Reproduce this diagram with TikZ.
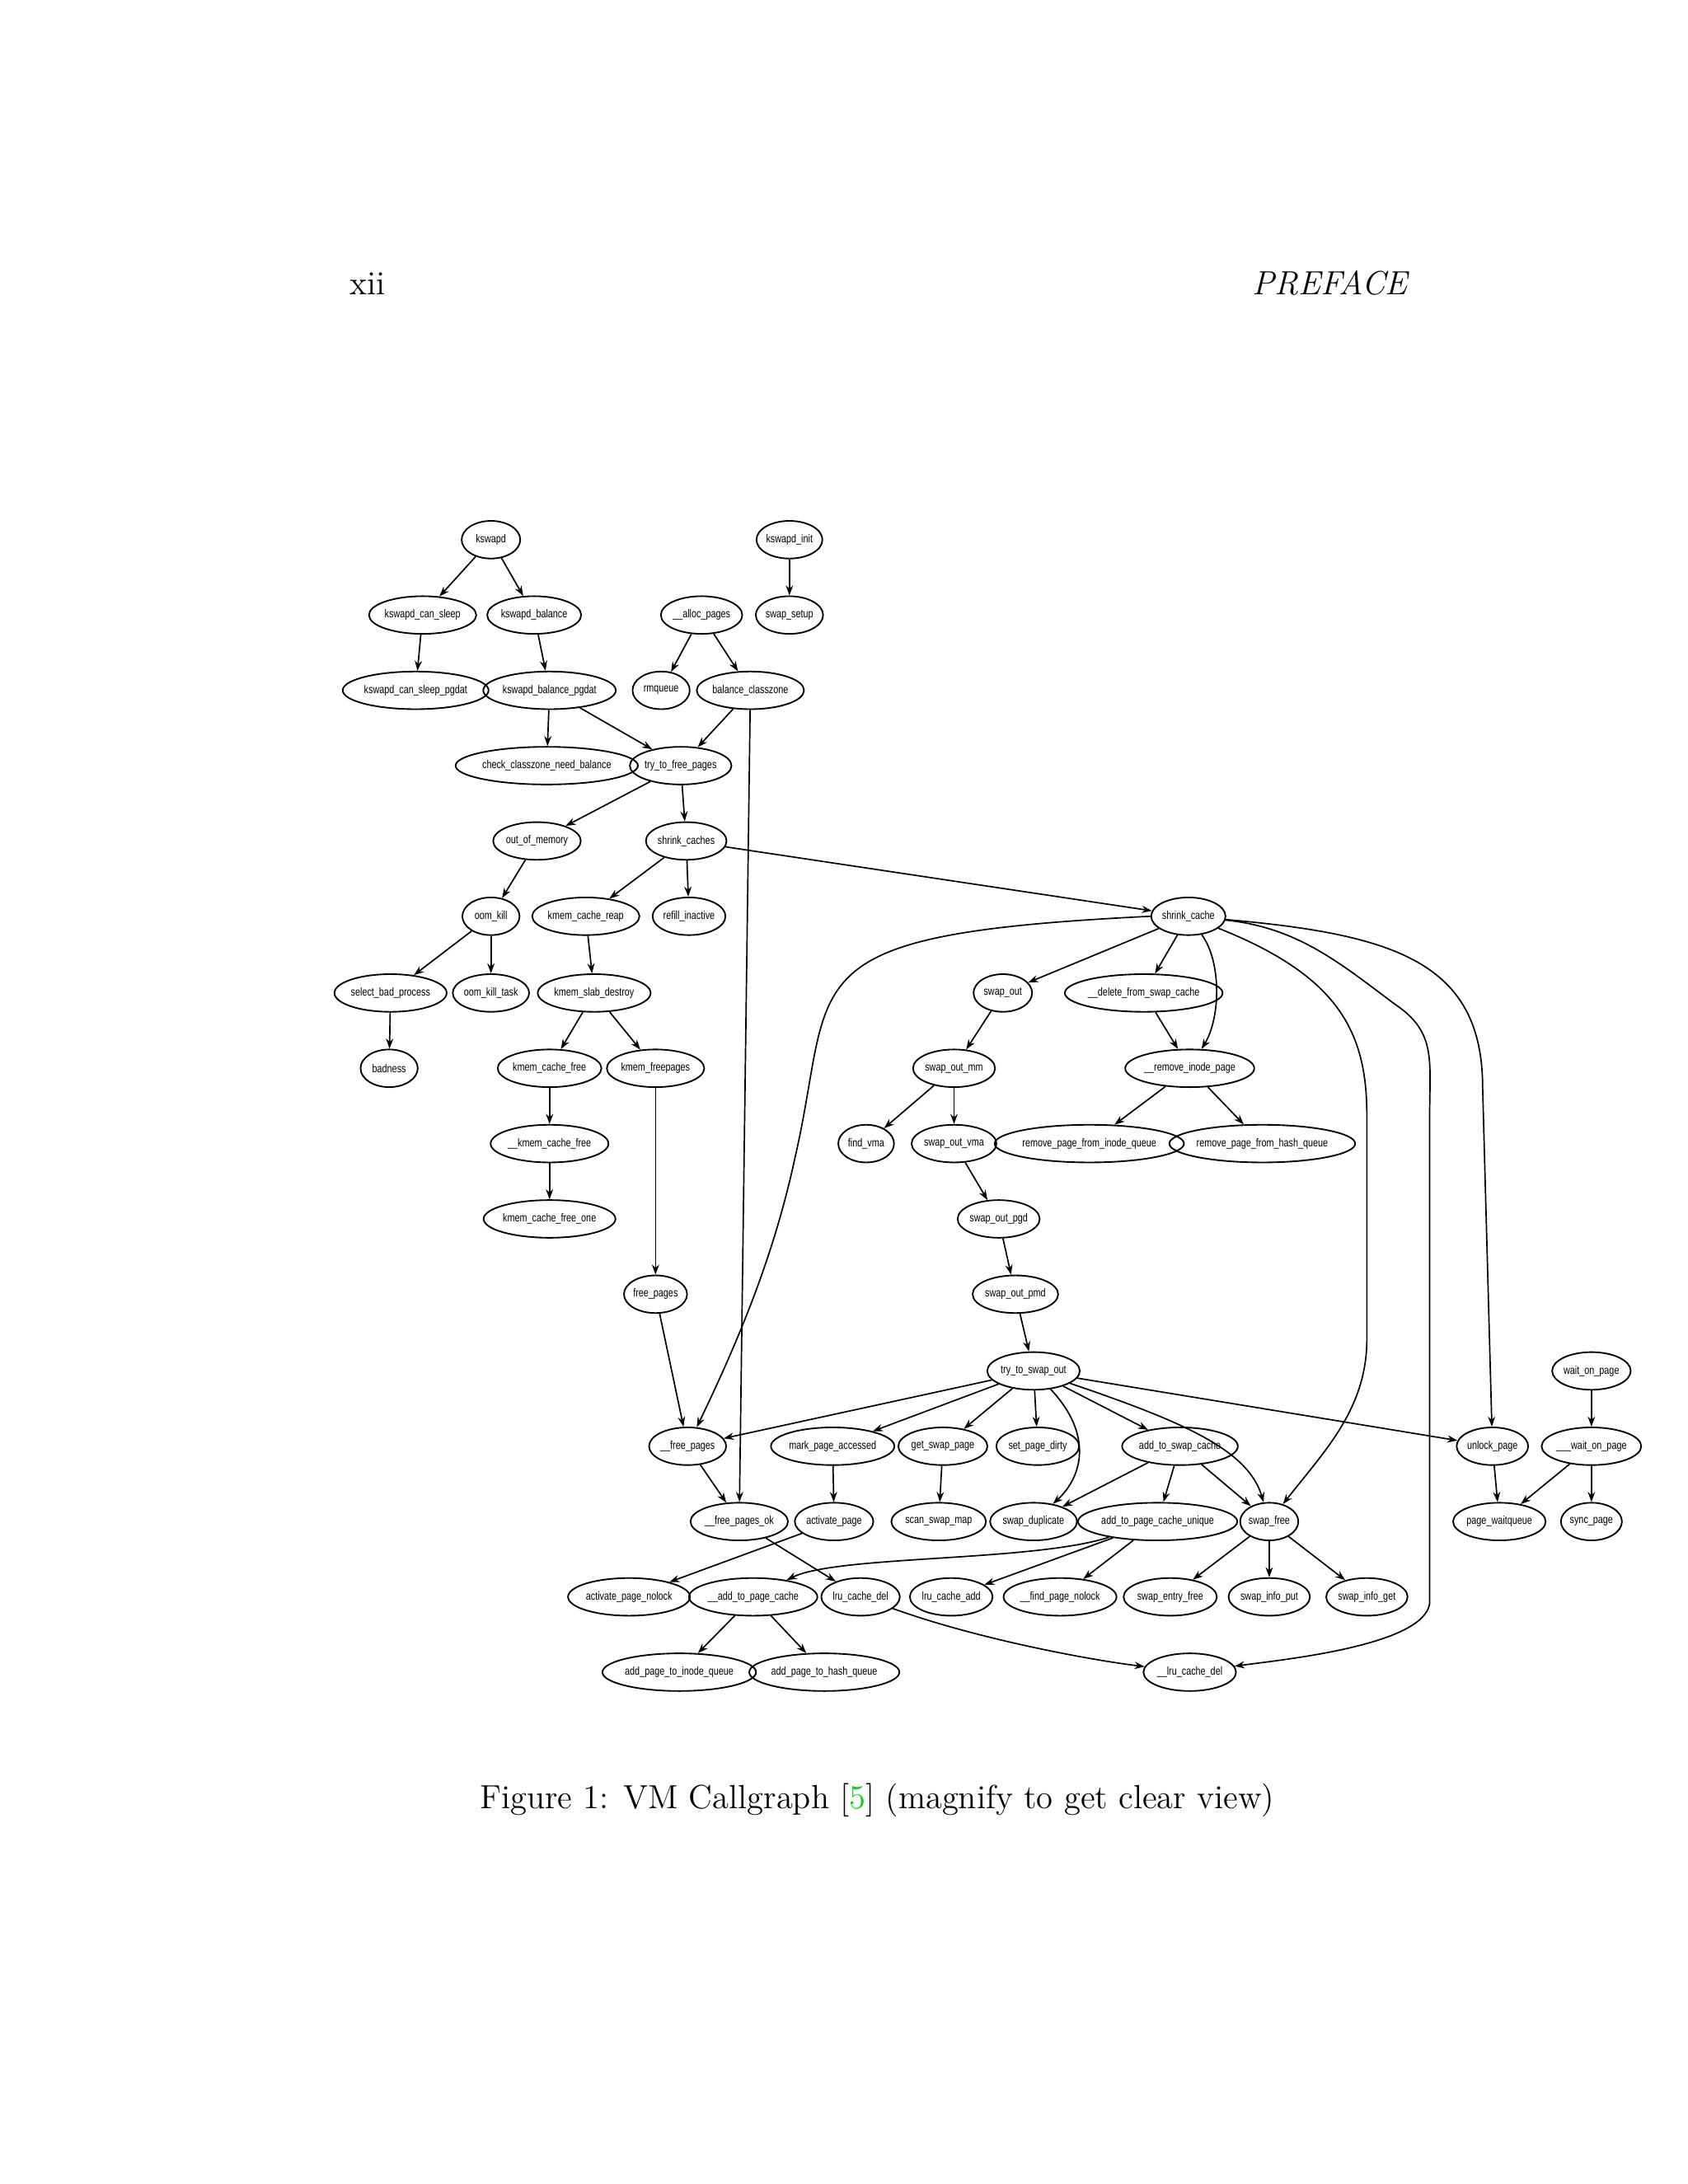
\documentclass[tikz,border=0pt]{standalone}
\usepackage{fontspec}
\usetikzlibrary{shapes.geometric,arrows.meta}
\newfontfamily\gfont[FakeStretch=0.78]{Liberation Sans}
\definecolor{citegreen}{rgb}{0.1,0.8,0.1}
\newcommand\gnode[5]{\node[gn=#4] (#1) at (#2,#3) {#5};}
\tikzset{
  gn/.style={ellipse,draw,line width=0.55pt,minimum width=#1*0.5pt,minimum height=13.5pt,inner sep=0pt,font=\gfont\fontsize{4.1}{5}\selectfont},
  ed/.style={line width=0.5pt,-{Stealth[length=3.6pt,width=2.6pt]}}
}
\begin{document}
\begin{tikzpicture}[x=0.5pt,y=-0.5pt]
\useasboundingbox (0,0) rectangle (1210,1566);
\node[anchor=base west,font=\fontsize{12}{14}\selectfont] (pg) at (244,211) {xii};
\node[anchor=base east,font=\fontsize{12}{14}\selectfont\itshape] (pf) at (1016,211) {PREFACE};
\node[anchor=base,font=\fontsize{12}{14}\selectfont] (cap) at (629,1297) {Figure 1: VM Callgraph [\textcolor{citegreen}{5}] (magnify to get clear view)};
% nodes
\gnode{kswapd}{352}{387}{42}{kswapd}
\gnode{kinit}{566}{387}{46}{kswapd\_init}
\gnode{kcs}{303}{441}{66}{kswapd\_can\_sleep}
\gnode{kb}{383}{441}{58}{kswapd\_balance}
\gnode{ap}{503}{441}{52}{\_\_alloc\_pages}
\gnode{ss}{566}{441}{44}{swap\_setup}
\gnode{kcsp}{298}{495}{86}{kswapd\_can\_sleep\_pgdat}
\gnode{kbp}{394}{495}{80}{kswapd\_balance\_pgdat}
\gnode{rmq}{474}{495}{41}{rmqueue}
\gnode{bc}{538}{495}{63}{balance\_classzone}
\gnode{ccnb}{392}{549}{103}{check\_classzone\_need\_balance}
\gnode{ttfp}{488}{549}{65}{try\_to\_free\_pages}
\gnode{oom}{385}{603}{59}{out\_of\_memory}
\gnode{sc}{492}{603}{51}{shrink\_caches}
\gnode{oomk}{352}{657}{41}{oom\_kill}
\gnode{kcr}{420}{657}{66}{kmem\_cache\_reap}
\gnode{ri}{494}{657}{51}{refill\_inactive}
\gnode{shc}{852}{657}{48}{shrink\_cache}
\gnode{sbp}{280}{712}{65}{select\_bad\_process}
\gnode{okt}{352}{712}{53}{oom\_kill\_task}
\gnode{ksd}{426}{712}{70}{kmem\_slab\_destroy}
\gnode{so}{719}{712}{42}{swap\_out}
\gnode{dfsc}{820}{712}{94}{\_\_delete\_from\_swap\_cache}
\gnode{bad}{279}{766}{41}{badness}
\gnode{kcf}{394}{766}{65}{kmem\_cache\_free}
\gnode{kfp}{470}{766}{63}{kmem\_freepages}
\gnode{somm}{684}{766}{56}{swap\_out\_mm}
\gnode{rip}{853}{766}{76}{\_\_remove\_inode\_page}
\gnode{ukcf}{394}{820}{73}{\_\_kmem\_cache\_free}
\gnode{fvma}{621}{820}{40}{find\_vma}
\gnode{sov}{684}{820}{54}{swap\_out\_vma}
\gnode{rpiq}{781}{820}{110}{remove\_page\_from\_inode\_queue}
\gnode{rphq}{905}{820}{108}{remove\_page\_from\_hash\_queue}
\gnode{kcfo}{394}{874}{81}{kmem\_cache\_free\_one}
\gnode{sopgd}{716}{874}{50}{swap\_out\_pgd}
\gnode{fp}{470}{928}{40}{free\_pages}
\gnode{sopmd}{728}{928}{54}{swap\_out\_pmd}
\gnode{ttso}{741}{983}{59}{try\_to\_swap\_out}
\gnode{wop}{1141}{983}{51}{wait\_on\_page}
\gnode{ufp}{493}{1037}{44}{\_\_free\_pages}
\gnode{mpa}{597}{1037}{71}{mark\_page\_accessed}
\gnode{gsp}{676}{1037}{54}{get\_swap\_page}
\gnode{spd}{744}{1037}{51}{set\_page\_dirty}
\gnode{atsc}{846}{1037}{68}{add\_to\_swap\_cache}
\gnode{up}{1070}{1037}{46}{unlock\_page}
\gnode{uwop}{1141}{1037}{63}{\_\_\_wait\_on\_page}
\gnode{ufpo}{530}{1091}{61}{\_\_free\_pages\_ok}
\gnode{acp}{598}{1091}{46}{activate\_page}
\gnode{ssm}{673}{1091}{57}{scan\_swap\_map}
\gnode{sd}{741}{1091}{52}{swap\_duplicate}
\gnode{atpcu}{830}{1091}{90}{add\_to\_page\_cache\_unique}
\gnode{sf}{910}{1091}{40}{swap\_free}
\gnode{pwq}{1075}{1091}{58}{page\_waitqueue}
\gnode{syp}{1141}{1091}{40}{sync\_page}
\gnode{apn}{451}{1145}{73}{activate\_page\_nolock}
\gnode{uatpc}{540}{1145}{73}{\_\_add\_to\_page\_cache}
\gnode{lcd}{617}{1145}{48}{lru\_cache\_del}
\gnode{lca}{682}{1145}{48}{lru\_cache\_add}
\gnode{fpn}{760}{1145}{70}{\_\_find\_page\_nolock}
\gnode{sef}{839}{1145}{58}{swap\_entry\_free}
\gnode{sip}{910}{1145}{52}{swap\_info\_put}
\gnode{sig}{980}{1145}{52}{swap\_info\_get}
\gnode{apiq}{487}{1199}{91}{add\_page\_to\_inode\_queue}
\gnode{aphq}{591}{1199}{88}{add\_page\_to\_hash\_queue}
\gnode{ulcd}{853}{1199}{58}{\_\_lru\_cache\_del}
% edges
\draw[ed] (kswapd) -- (kcs);
\draw[ed] (kswapd) -- (kb);
\draw[ed] (kcs) -- (kcsp);
\draw[ed] (kb) -- (kbp);
\draw[ed] (kinit) -- (ss);
\draw[ed] (ap) -- (rmq);
\draw[ed] (ap) -- (bc);
\draw[ed] (kbp) -- (ccnb);
\draw[ed] (kbp) -- (ttfp);
\draw[ed] (bc) -- (ttfp);
\draw[ed] (bc) -- (ufpo);
\draw[ed] (ttfp) -- (oom);
\draw[ed] (ttfp) -- (sc);
\draw[ed] (oom) -- (oomk);
\draw[ed] (oomk) -- (sbp);
\draw[ed] (oomk) -- (okt);
\draw[ed] (sbp) -- (bad);
\draw[ed] (sc) -- (kcr);
\draw[ed] (sc) -- (ri);
\draw[ed] (sc) -- (shc);
\draw[ed] (kcr) -- (ksd);
\draw[ed] (ksd) -- (kcf);
\draw[ed] (ksd) -- (kfp);
\draw[ed] (kcf) -- (ukcf);
\draw[ed] (ukcf) -- (kcfo);
\draw[ed] (kfp) -- (fp);
\draw[ed] (fp) -- (ufp);
\draw[ed] (shc) -- (so);
\draw[ed] (shc) -- (dfsc);
\draw[ed] (shc) .. controls (876,690) and (875,730) .. (rip);
\draw[ed] (shc.west) .. controls (560,670) and (600,700) .. (570,830) .. controls (555,900) and (530,960) .. (ufp);
\draw[ed] (shc) .. controls (960,700) and (980,740) .. (980,800) -- (980,960) .. controls (980,1010) and (950,1040) .. (sf);
\draw[ed] (shc) .. controls (930,665) and (960,690) .. (1000,720) .. controls (1030,740) and (1025,760) .. (1025,800) -- (1025,1150) .. controls (1020,1180) and (920,1190) .. (ulcd);
\draw[ed] (shc) .. controls (1000,670) and (1063,690) .. (1063,780) -- (up);
\draw[ed] (dfsc) -- (rip);
\draw[ed] (rip) -- (rpiq);
\draw[ed] (rip) -- (rphq);
\draw[ed] (so) -- (somm);
\draw[ed] (somm) -- (fvma);
\draw[ed] (somm) -- (sov);
\draw[ed] (sov) -- (sopgd);
\draw[ed] (sopgd) -- (sopmd);
\draw[ed] (sopmd) -- (ttso);
\draw[ed] (ttso) -- (ufp);
\draw[ed] (ttso) -- (mpa);
\draw[ed] (ttso) -- (gsp);
\draw[ed] (ttso) -- (spd);
\draw[ed] (ttso) .. controls (785,1030) and (775,1060) .. (sd);
\draw[ed] (ttso) -- (atsc);
\draw[ed] (ttso) .. controls (850,1020) and (895,1040) .. (sf);
\draw[ed] (ttso) -- (up);
\draw[ed] (ufp) -- (ufpo);
\draw[ed] (mpa) -- (acp);
\draw[ed] (gsp) -- (ssm);
\draw[ed] (atsc) -- (sd);
\draw[ed] (atsc) -- (atpcu);
\draw[ed] (atsc) -- (sf);
\draw[ed] (wop) -- (uwop);
\draw[ed] (uwop) -- (pwq);
\draw[ed] (uwop) -- (syp);
\draw[ed] (up) -- (pwq);
\draw[ed] (ufpo) -- (lcd);
\draw[ed] (acp) -- (apn);
\draw[ed] (atpcu) .. controls (740,1120) and (600,1115) .. (uatpc);
\draw[ed] (atpcu) -- (lca);
\draw[ed] (atpcu) -- (fpn);
\draw[ed] (sf) -- (sef);
\draw[ed] (sf) -- (sip);
\draw[ed] (sf) -- (sig);
\draw[ed] (uatpc) -- (apiq);
\draw[ed] (uatpc) -- (aphq);
\draw[ed] (lcd) .. controls (700,1175) and (780,1190) .. (ulcd);
\end{tikzpicture}
\end{document}
